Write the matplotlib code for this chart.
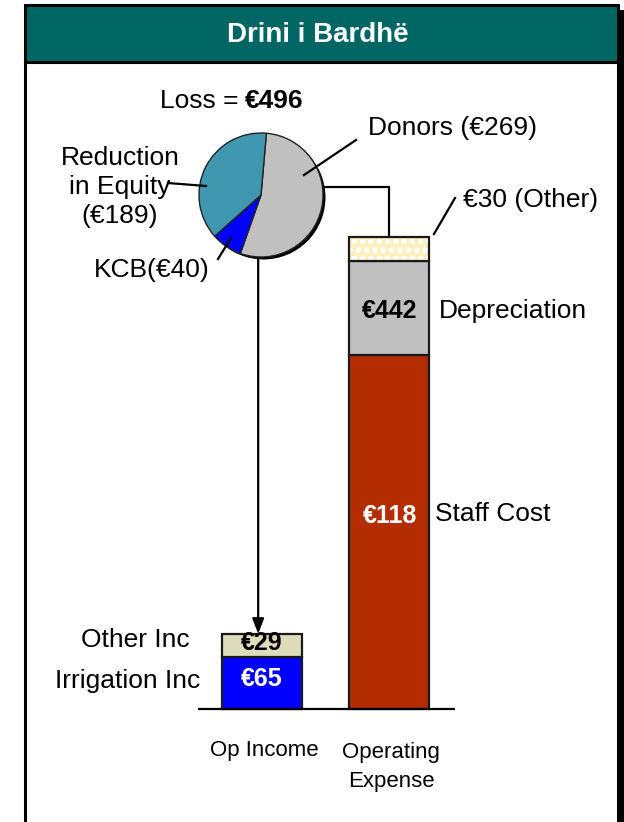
import matplotlib
matplotlib.use("Agg")
import matplotlib.pyplot as plt
from matplotlib import font_manager
from matplotlib.patches import Rectangle, Circle
from matplotlib.lines import Line2D

# ---- data -------------------------------------------------------------
categories = ["Op Income", "Operating\nExpense"]

income_parts = ["Irrigation Inc", "Other Inc"]
income_values = [65, 29]

expense_parts = ["Staff Cost", "Depreciation", "Other"]
expense_values = [442, 118, 30]

funding_parts = ["Donors", "KCB", "Reduction in Equity"]
funding_values = [269, 40, 189]

loss_value = 496
title = "Drini i Bardhë"

income_labels = ["€65", "€29"]
expense_labels = ["€118", "€442"]

# ---- style ------------------------------------------------------------
W, H, DPI = 624, 822, 100
FONT = "Liberation Sans"
names = {f.name for f in font_manager.fontManager.ttflist}
if "Liberation Sans Narrow" in names:
    NARROW, NARROW_SIZE = "Liberation Sans Narrow", 19
else:
    NARROW, NARROW_SIZE = FONT, 16
plt.rcParams["font.family"] = [FONT, "DejaVu Sans"]
plt.rcParams["hatch.linewidth"] = 1.2

TEAL_TITLE = "#006663"
GREY = "#C0C0C0"
BLUE = "#0000FF"
TEAL = "#3F97B0"
RED = "#B32D00"
BEIGE = "#DEDDBB"
CREAM = "#FCEFC0"

fig = plt.figure(figsize=(W / DPI, H / DPI), dpi=DPI)


def fx(px):
    return px / W


def fy(py):
    return 1 - py / H


def ftext(x, y, s, **kw):
    kw.setdefault("fontsize", 19)
    kw.setdefault("va", "center")
    fig.text(fx(x), fy(y), s, **kw)


def fline(xs, ys, lw=1.6, **kw):
    fig.add_artist(Line2D([fx(v) for v in xs], [fy(v) for v in ys],
                          color="black", lw=lw, transform=fig.transFigure, **kw))


# ---- frame and title bar ---------------------------------------------
fig.add_artist(Rectangle((fx(618), 0), fx(624) - fx(618), fy(10),
                         transform=fig.transFigure, fc="black", ec="none"))
fig.add_artist(Rectangle((fx(25), fy(62)), fx(618) - fx(25), fy(5) - fy(62),
                         transform=fig.transFigure, fc=TEAL_TITLE, ec="black", lw=2.2))
fline([25, 25], [62, 822], lw=2.2)
fline([618, 618], [62, 822], lw=2.2)
ftext(318, 35, title, ha="center", color="white", fontweight="bold", fontsize=20)

# ---- stacked bars -----------------------------------------------------
ax = fig.add_axes([0, 0, 1, 1])
x_center0, x_step = 262.0, 127.5
px_per_unit = 0.8
base_px = 709
ax.set_xlim(-x_center0 / x_step, (W - x_center0) / x_step)
y_bottom = -(H - base_px) / px_per_unit
ax.set_ylim(y_bottom, y_bottom + H / px_per_unit)
ax.axis("off")

bar_w = 80 / x_step
xs = [0, 1]

inc_colors = [BLUE, BEIGE]
bottom = 0
for v, c in zip(income_values, inc_colors):
    ax.bar(xs[0], v, bottom=bottom, width=bar_w, color=c, edgecolor="#1a1a1a", lw=1.6, zorder=2)
    bottom += v
income_total = bottom

exp_colors = [RED, GREY, CREAM]
bottom = 0
for i, (v, c) in enumerate(zip(expense_values, exp_colors)):
    if i == 2:
        ax.bar(xs[1], v, bottom=bottom, width=bar_w, color=c, edgecolor="white",
               hatch="oo", lw=0, zorder=2)
        ax.bar(xs[1], v, bottom=bottom, width=bar_w, fill=False,
               edgecolor="#1a1a1a", lw=1.6, zorder=3)
    else:
        ax.bar(xs[1], v, bottom=bottom, width=bar_w, color=c, edgecolor="#1a1a1a", lw=1.6, zorder=2)
    bottom += v
expense_total = bottom

# baseline
ax.hlines(0, (198 - x_center0) / x_step, (455 - x_center0) / x_step, color="black", lw=1.6, zorder=4)


def py_to_data(py):
    return (H - py) / px_per_unit + y_bottom


# connector from the pie to the top of the expense bar
ax.plot([(323 - x_center0) / x_step, xs[1], xs[1]],
        [py_to_data(187), py_to_data(187), expense_total],
        color="black", lw=1.6, zorder=1, solid_joinstyle="miter")

# arrow from the pie down to the top of the income bar
arrow_x = -0.03
ax.annotate("", xy=(arrow_x, income_total), xytext=(arrow_x, py_to_data(258)),
            arrowprops=dict(arrowstyle="-|>,head_length=0.9,head_width=0.35",
                            color="black", lw=1.6, shrinkA=0, shrinkB=0), zorder=5)

# ---- pie --------------------------------------------------------------
pc_x, pc_y, pr = 261, 195, 62
pad = 1.12
pax = fig.add_axes([fx(pc_x - pr * pad), fy(pc_y + pr * pad),
                    2 * pr * pad / W, 2 * pr * pad / H])
pax.add_patch(Circle((0.04, -0.04), 1.0, fc="black", ec="none", zorder=0))
pax.pie(funding_values, colors=[GREY, BLUE, TEAL], startangle=85, counterclock=False,
        radius=1.0, wedgeprops=dict(edgecolor="#222222", lw=1.0, zorder=1))
pax.set_xlim(-pad, pad)
pax.set_ylim(-pad, pad)
pax.set_aspect("equal")
pax.axis("off")

# ---- text -------------------------------------------------------------
ftext(246, 101, "Loss = ", ha="right")
ftext(245, 101, f"€{loss_value}", ha="left", fontweight="bold")

ftext(368, 128, f"{funding_parts[0]} (€{funding_values[0]})", ha="left")
fline([356, 304], [140, 175])

ftext(120, 187, "Reduction\nin Equity\n" + f"(€{funding_values[2]})", ha="center", linespacing=1.27)
fline([168, 206], [183, 186])

ftext(152, 270, f"{funding_parts[1]}(€{funding_values[1]})", ha="center")
fline([218, 231], [259, 238])

ftext(463, 200, f"€{expense_values[2]} (Other)", ha="left")
fline([455, 434], [198, 234])

ftext(439, 311, expense_parts[1], ha="left")
ftext(435, 514, expense_parts[0], ha="left")
ftext(390, 311, expense_labels[1], ha="center", fontweight="bold", fontsize=18)
ftext(390, 516, expense_labels[0], ha="center", fontweight="bold", fontsize=18, color="white")

ftext(262, 643, income_labels[1], ha="center", fontweight="bold", fontsize=18, zorder=6)
ftext(262, 679, income_labels[0], ha="center", fontweight="bold", fontsize=18, color="white")
ftext(190, 640, income_parts[1], ha="right")
ftext(200, 681, income_parts[0], ha="right")

ftext(264, 750, categories[0], ha="center", family=[NARROW, "DejaVu Sans"], fontsize=NARROW_SIZE)
ftext(391, 767, categories[1], ha="center", family=[NARROW, "DejaVu Sans"],
      fontsize=NARROW_SIZE, linespacing=1.5)

fig.savefig("out.png", dpi=DPI)
